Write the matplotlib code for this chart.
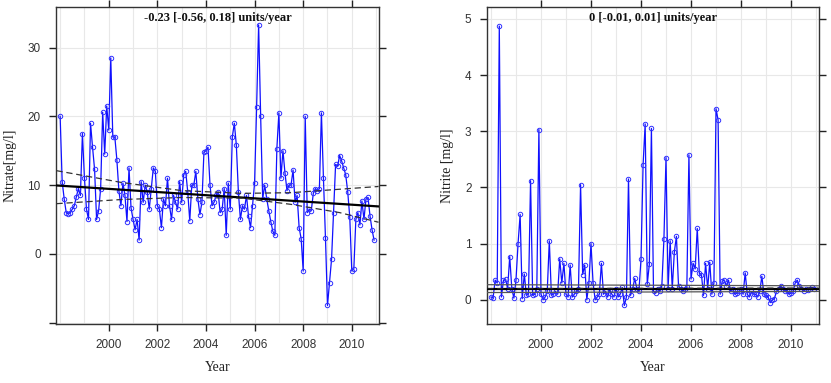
import numpy as np
import matplotlib
matplotlib.use("Agg")
import matplotlib.pyplot as plt
from matplotlib.ticker import MultipleLocator, FixedLocator

# ---------------- data ----------------
start_year = 1998
nitrate = [
    20, 10.5, 8, 6, 5.8, 6, 6.5, 7, 8.3, 9.5, 8.5, 17.5,          # 1998
    11, 6.5, 5, 19, 15.5, 12.3, 5, 6.3, 9.5, 20.6, 14.5, 21.5,     # 1999
    18, 28.5, 17, 17, 13.7, 9.2, 7, 10.3, 8.5, 4.7, 12.5, 6.7,     # 2000
    5, 3.5, 5, 2, 10.5, 7.5, 10, 9, 6.5, 9.5, 12.5, 12,            # 2001
    7, 6.5, 3.8, 8, 7, 11, 7, 5, 8.5, 7.5, 6.5, 10.5,              # 2002
    7.5, 11.5, 12, 9, 4.8, 10, 10, 12, 8, 5.7, 7.5, 14.8,          # 2003
    15, 15.5, 10, 7, 7.5, 8.5, 9, 6, 6.5, 9.5, 2.7, 10.3,          # 2004
    6.5, 17, 19, 15.8, 9, 5, 7, 6.5, 8.5, 5.5, 3.8, 7,             # 2005
    10.3, 21.3, 33.3, 20, 8, 10, 8, 6.3, 4.7, 3.3, 2.7, 15.3,      # 2006
    20.5, 11, 15, 11.8, 9.2, 10, 10, 12.2, 7.5, 8.5, 3.8, 2.2,     # 2007
    -2.5, 20, 6, 6.5, 6.3, 8.8, 9.5, 9.2, 9.5, 20.5, 11, 2.3,      # 2008
    -7.5, -4.2, -0.8, 6, 13, 12.8, 14.3, 13.5, 12.5, 11.5, 9, 5.3, # 2009
    -2.5, -2.2, 5, 6, 4.2, 7.7, 5, 8, 8.2, 5.5, 3.5, 2,            # 2010
]
nitrite = [
    0.05, 0.03, 0.35, 0.3, 4.87, 0.05, 0.35, 0.37, 0.2, 0.77, 0.2, 0.03,    # 1998
    0.35, 1.0, 1.52, 0.02, 0.46, 0.08, 0.1, 2.12, 0.08, 0.1, 0.2, 3.03,     # 1999
    0.1, 0.0, 0.05, 0.15, 1.05, 0.08, 0.1, 0.15, 0.1, 0.73, 0.3, 0.65,      # 2000
    0.1, 0.05, 0.62, 0.05, 0.1, 0.15, 0.2, 2.05, 0.45, 0.62, 0.0, 0.3,      # 2001
    1.0, 0.3, 0.0, 0.05, 0.1, 0.65, 0.1, 0.15, 0.05, 0.18, 0.1, 0.05,       # 2002
    0.2, 0.05, 0.1, 0.22, -0.1, 0.05, 2.15, 0.08, 0.2, 0.38, 0.2, 0.15,     # 2003
    0.72, 2.4, 3.13, 0.28, 0.63, 3.05, 0.15, 0.13, 0.2, 0.15, 0.25, 1.08,   # 2004
    2.53, 0.2, 1.05, 0.2, 0.85, 1.13, 0.25, 0.2, 0.15, 0.2, 0.22, 2.58,     # 2005
    0.37, 0.65, 0.55, 1.27, 0.47, 0.45, 0.08, 0.65, 0.2, 0.67, 0.1, 0.3,    # 2006
    3.4, 3.2, 0.1, 0.33, 0.35, 0.25, 0.35, 0.15, 0.2, 0.1, 0.12, 0.15,      # 2007
    0.2, 0.1, 0.48, 0.1, 0.05, 0.15, 0.1, 0.1, 0.05, 0.15, 0.42, 0.1,       # 2008
    0.08, 0.05, -0.05, 0.0, 0.02, 0.15, 0.2, 0.25, 0.2, 0.15, 0.18, 0.1,    # 2009
    0.12, 0.15, 0.3, 0.35, 0.25, 0.2, 0.15, 0.2, 0.18, 0.2, 0.22, 0.2,      # 2010
]

# trend lines (year, value)
nitrate_trend_years = [1997.85, 2011.1]
nitrate_trend = [9.95, 6.9]
nitrate_band_years = [1997.85, 2000.5, 2003.0, 2005.5, 2007.5, 2009.5, 2011.1]
nitrate_upper = [12.1, 10.4, 9.2, 8.8, 8.9, 9.4, 9.8]
nitrate_lower = [7.3, 7.9, 8.2, 8.1, 7.2, 6.0, 4.6]

nitrite_trend_years = [1997.85, 2011.1]
nitrite_trend = [0.19, 0.19]
nitrite_mid = [0.2, 0.21]
nitrite_upper = [0.27, 0.25]
nitrite_lower = [0.13, 0.15]

nitrate_title = "-0.23 [-0.56, 0.18] units/year"
nitrite_title = "0 [-0.01, 0.01] units/year"

# ---------------- plotting ----------------
fig = plt.figure(figsize=(8.31, 3.83), dpi=100)
serif = ["Liberation Serif", "DejaVu Serif"]
sans = ["Liberation Sans", "DejaVu Sans"]


def style_axes(ax, yticks, ylabels, ylim):
    ax.set_xlim(1997.83, 2011.12)
    ax.set_ylim(*ylim)
    ax.xaxis.set_major_locator(FixedLocator([2000, 2002, 2004, 2006, 2008, 2010]))
    ax.xaxis.set_minor_locator(MultipleLocator(1))
    ax.set_yticks(yticks)
    ax.set_yticklabels(ylabels)
    ax.grid(True, which="both", axis="x", color="#e8e8e8", lw=0.8)
    ax.grid(True, which="major", axis="y", color="#e8e8e8", lw=0.8)
    ax.set_axisbelow(True)
    ax.tick_params(which="major", direction="out", length=5, width=1,
                   color="#222222", top=True, right=True, labelsize=8.5,
                   labelcolor="#333333", pad=6)
    ax.tick_params(which="minor", length=0)
    for lab in ax.get_xticklabels() + ax.get_yticklabels():
        lab.set_family(sans)
    for sp in ax.spines.values():
        sp.set_color("#333333")
        sp.set_linewidth(1.0)
    ax.set_xlabel("Year", family=serif, fontsize=10, labelpad=7, color="#222222")


years = start_year + np.arange(len(nitrate)) / 12.0

# left panel
ax1 = fig.add_axes([0.0674, 0.154, 0.3887, 0.8277])
ax1.plot(years, nitrate, color="#1010ff", lw=0.9, marker="o", ms=3.2,
         mfc="none", mec="#3030ff", mew=0.7, zorder=3)
ax1.plot(nitrate_trend_years, nitrate_trend, color="black", lw=1.6, zorder=4)
ax1.plot(nitrate_band_years, nitrate_upper, color="#333333", lw=0.9, ls=(0, (5, 3)), zorder=4)
ax1.plot(nitrate_band_years, nitrate_lower, color="#333333", lw=0.9, ls=(0, (5, 3)), zorder=4)
style_axes(ax1, [-10, 0, 10, 20, 30], ["", "0", "10", "20", "30"], (-10.2, 35.9))
ax1.set_ylabel("Nitrate[mg/l]", family=serif, fontsize=10, labelpad=8, color="#222222")
ax1.text(0.5, 0.965, nitrate_title, transform=ax1.transAxes, ha="center", va="center",
         family=serif, fontsize=9, fontweight="bold", color="#111111")

# right panel
years2 = start_year + np.arange(len(nitrite)) / 12.0
ax2 = fig.add_axes([0.5857, 0.154, 0.3999, 0.8277])
ax2.plot(years2, nitrite, color="#1010ff", lw=0.9, marker="o", ms=3.2,
         mfc="none", mec="#3030ff", mew=0.7, zorder=3)
ax2.plot(nitrite_trend_years, nitrite_upper, color="#555555", lw=0.9, zorder=4)
ax2.plot(nitrite_trend_years, nitrite_lower, color="#555555", lw=0.9, zorder=4)
ax2.plot(nitrite_trend_years, nitrite_trend, color="black", lw=1.6, zorder=4)
ax2.plot(nitrite_trend_years, nitrite_mid, color="#222222", lw=0.9, ls=(0, (5, 3)), zorder=4)
style_axes(ax2, [0, 1, 2, 3, 4, 5], ["0", "1", "2", "3", "4", "5"], (-0.43, 5.21))
ax2.set_ylabel("Nitrite [mg/l]", family=serif, fontsize=10, labelpad=8, color="#222222")
ax2.text(0.5, 0.965, nitrite_title, transform=ax2.transAxes, ha="center", va="center",
         family=serif, fontsize=9, fontweight="bold", color="#111111")

fig.savefig("out.png", dpi=100)
